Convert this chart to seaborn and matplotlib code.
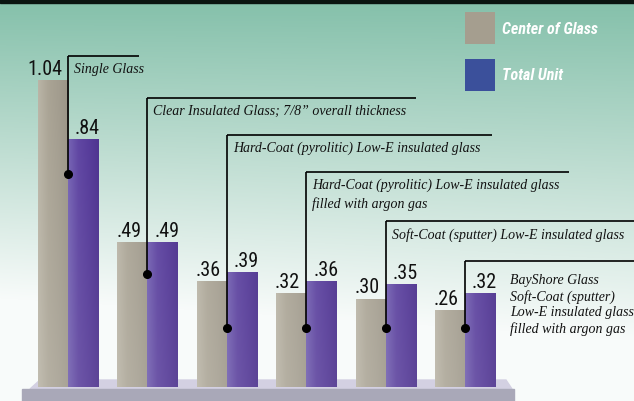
import numpy as np
import pandas as pd
import matplotlib
matplotlib.use("Agg")
import matplotlib.pyplot as plt
import seaborn as sns
from matplotlib import font_manager as fm
from matplotlib.patches import Patch, Rectangle, Polygon
from matplotlib.colors import to_rgb

# ---------------- data ----------------
categories = [
    "Single Glass",
    "Clear Insulated Glass; 7/8\u201d overall thickness",
    "Hard-Coat (pyrolitic) Low-E insulated glass",
    "Hard-Coat (pyrolitic) Low-E insulated glass\nfilled with argon gas",
    "Soft-Coat (sputter) Low-E insulated glass",
    "BayShore Glass\nSoft-Coat (sputter)\nLow-E insulated glass\nfilled with argon gas",
]
series = ["Center of Glass", "Total Unit"]
center_of_glass = [1.04, 0.49, 0.36, 0.32, 0.30, 0.26]
total_unit = [0.84, 0.49, 0.39, 0.36, 0.35, 0.32]
center_labels = ["1.04", ".49", ".36", ".32", ".30", ".26"]
total_labels = [".84", ".49", ".39", ".36", ".35", ".32"]

# ---------------- layout (pixels) ----------------
W, H = 634, 402
X0, DX = 68.0, 79.4
Y0, SY = 388.0, 295.0

def dx(px):
    return (px - X0) / DX

def dy(py):
    return (Y0 - py) / SY

ann_top_px = [57, 99, 136, 173, 222, 262]
ann_right_px = [139, 416, 492, 569, 640, 640]
dot_px = [175, 275, 329, 329, 329, 329]

GRAY = "#aaa496"
PURPLE = "#5d43a0"
LEG_GRAY = "#a59e8f"
LEG_BLUE = "#3b509b"

# pick a condensed sans if one is installed
entries = fm.fontManager.ttflist
cond_family, cond_stretch = None, "normal"
for pref in ["Liberation Sans Narrow", "Roboto Condensed", "Open Sans Condensed",
             "Noto Sans Condensed", "DejaVu Sans Condensed"]:
    if any(e.name == pref for e in entries):
        cond_family = pref
        break
if cond_family is None:
    for fam in ["DejaVu Sans", "Noto Sans", "Roboto", "Open Sans", "Liberation Sans"]:
        if any(e.name == fam and str(e.stretch) in ("condensed", "semi-condensed", "500", "600")
               for e in entries):
            cond_family, cond_stretch = fam, "condensed"
            break
if cond_family is None:
    cond_family = "Liberation Sans"
num_font = [cond_family, "DejaVu Sans"]
narrow = cond_family != "Liberation Sans"
num_size = 14.5 if narrow else 13.5
leg_size = 11.5 if narrow else 10

df = pd.DataFrame({
    "glass": categories * 2,
    "series": [series[0]] * 6 + [series[1]] * 6,
    "value": center_of_glass + total_unit,
})

fig = plt.figure(figsize=(W / 100, H / 100), dpi=100)

# background gradient
bg = fig.add_axes([0, 0, 1, 1])
bg.set_axis_off()
yy = np.linspace(0, 1, 402)[:, None]
xx = np.linspace(0, 1, 634)[None, :]
top = np.array(to_rgb("#84c0aa"))
mid = np.array(to_rgb("#c2dfd4"))
bot = np.array(to_rgb("#f8fbfa"))
t = np.clip(yy + 0.14 * (1 - xx) * yy, 0, 1)
img = np.where((t < 0.45)[..., None],
               top + (mid - top) * (t / 0.45)[..., None],
               mid + (bot - mid) * np.clip((t - 0.45) / 0.4, 0, 1)[..., None])
bg.imshow(img, extent=[0, W, H, 0], aspect="auto")
bg.add_patch(Rectangle((0, 0), W, 3.5, color="#0a1410"))
bg.set_xlim(0, W)
bg.set_ylim(H, 0)

# platform
bg.add_patch(Polygon([[40, 381], [506, 381], [512, 390], [30, 390]],
                     closed=True, color="#d3d0e2", zorder=3))
bg.add_patch(Rectangle((22, 390), 492, 12, color="#a9a8b8", zorder=3))

# main axes
ax = fig.add_axes([0, 0, 1, 1])
ax.patch.set_alpha(0)
sns.barplot(data=df, x="glass", y="value", hue="series", order=categories,
            hue_order=series, palette=[GRAY, PURPLE], width=0.756, gap=0,
            dodge=True, saturation=1, legend=False, ax=ax, edgecolor="none")

# shading: horizontal light->dark, lighter toward the bottom
grads = [
    ["#bab5a7", "#aaa495", "#a39d8f", "#9a9486"],
    ["#7462b4", "#5e44a2", "#553a9a", "#4c318f"],
]
bottom_lift = [0.22, 0.12]
for k, cont in enumerate(ax.containers):
    cols = np.array([to_rgb(c) for c in grads[k]])
    g = np.linspace(0, 1, 64)
    idx = g * (len(cols) - 1)
    lo = np.floor(idx).astype(int)
    hi = np.minimum(lo + 1, len(cols) - 1)
    fr = (idx - lo)[:, None]
    row = cols[lo] * (1 - fr) + cols[hi] * fr
    for bar in cont:
        x0, y0 = bar.get_x(), bar.get_y()
        w, h = bar.get_width(), bar.get_height()
        ys = np.linspace(y0 + h, y0, 80)  # image rows top->bottom
        lift = bottom_lift[k] * np.clip(1 - ys / 1.0, 0, 1)[:, None, None]
        tile = row[None, :, :] * (1 - lift) + lift * np.array([0.86, 0.85, 0.82])
        im = ax.imshow(tile, extent=[x0, x0 + w, y0, y0 + h],
                       aspect="auto", zorder=bar.get_zorder() + 0.1)
        im.set_clip_path(bar)

# value labels
for i, (v, lab) in enumerate(zip(center_of_glass, center_labels)):
    ax.text(i - 6 / DX, v + 6 / SY, lab, ha="right", va="baseline",
            fontsize=num_size, family=num_font, fontstretch=cond_stretch,
            color="#111111", zorder=6)
for i, (v, lab) in enumerate(zip(total_unit, total_labels)):
    ax.text(i + 7 / DX, v + 6 / SY, lab, ha="left", va="baseline",
            fontsize=num_size, family=num_font, fontstretch=cond_stretch,
            color="#111111", zorder=6)

# annotation leaders
serif = ["Liberation Serif", "DejaVu Serif"]
for i, cat in enumerate(categories):
    ytop = dy(ann_top_px[i])
    ydot = dy(dot_px[i])
    ax.plot([i, i], [ydot, ytop], color="black", lw=1.2, zorder=7,
            solid_capstyle="butt")
    ax.plot([i, dx(ann_right_px[i])], [ytop, ytop], color="black", lw=1.2,
            zorder=7, solid_capstyle="butt")
    ax.plot([i], [ydot], "o", color="black", ms=5.5, zorder=8)
    if i < 5:
        ax.text(i + 6 / DX, dy(ann_top_px[i] + 6), cat, ha="left", va="top",
                fontsize=10, style="italic", family=serif, color="#111111",
                linespacing=1.45, zorder=7)
    else:
        ax.text(dx(510), dy(274), cat, ha="left", va="top", fontsize=10,
                style="italic", family=serif, color="#111111",
                linespacing=1.25, zorder=7)

ax.set_xlim(dx(0), dx(W))
ax.set_ylim(dy(H), dy(0))
ax.set_axis_off()

# legend
px_per_fs = leg_size * 100 / 72
handles = [Patch(facecolor=LEG_GRAY, edgecolor="none", label=series[0]),
           Patch(facecolor=LEG_BLUE, edgecolor="none", label=series[1])]
leg = ax.legend(handles=handles, loc="upper left",
                bbox_to_anchor=(465 / W, 1 - 13 / H), frameon=False,
                handlelength=30 / px_per_fs,
                handleheight=30 / px_per_fs / 0.7,
                handletextpad=0.45,
                labelspacing=15 / px_per_fs,
                borderpad=0, borderaxespad=0,
                prop={"family": num_font, "stretch": cond_stretch,
                      "weight": "bold", "style": "italic", "size": leg_size})
for tx in leg.get_texts():
    tx.set_color("white")

fig.savefig("out.png", dpi=100)
